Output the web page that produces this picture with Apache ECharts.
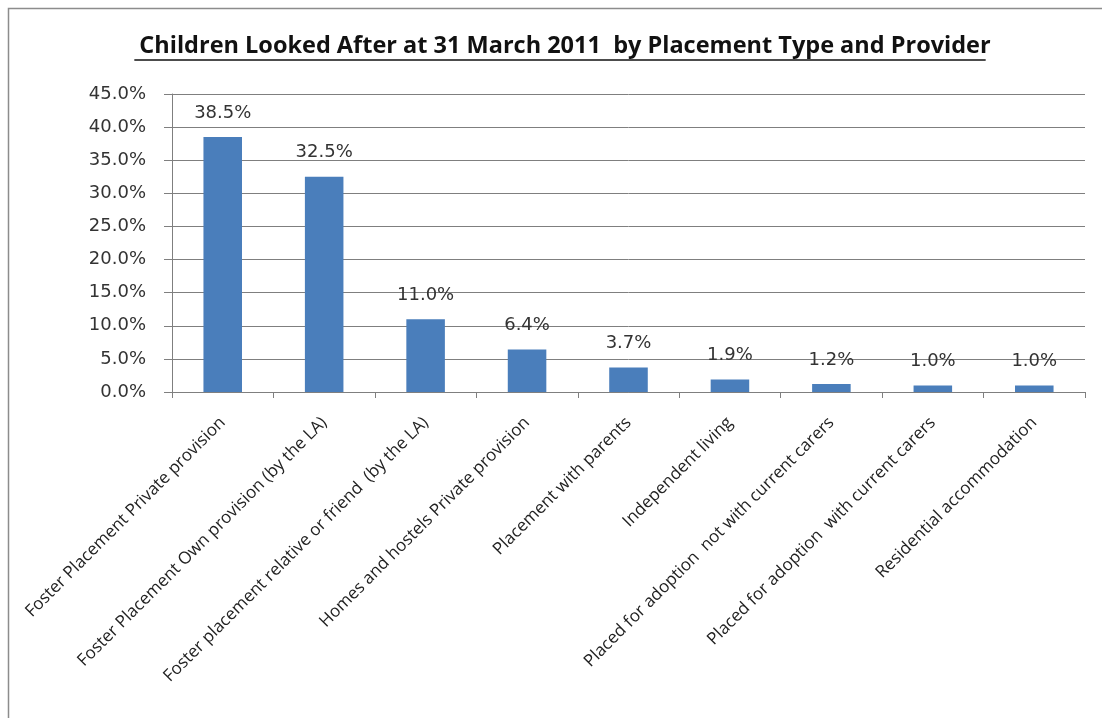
<!DOCTYPE html>
<html>
<head>
<meta charset="utf-8">
<script src="https://cdn.jsdelivr.net/npm/echarts@6/dist/echarts.min.js"></script>
<style>
  html, body { margin: 0; padding: 0; background: #ffffff; }
  #chart { width: 1102px; height: 718px; }
</style>
</head>
<body>
<div id="chart"></div>
<script>
// Placement types (category axis) and share of children looked after (%)
const categories = [
  'Foster Placement Private provision',
  'Foster Placement Own provision (by the LA)',
  'Foster placement relative or friend  (by the LA)',
  'Homes and hostels Private provision',
  'Placement with parents',
  'Independent living',
  'Placed for adoption  not with current carers',
  'Placed for adoption  with current carers',
  'Residential accommodation'
];
const shares = [38.5, 32.5, 11.0, 6.4, 3.7, 1.9, 1.2, 1.0, 1.0];

// Value axis ticks (%)
const yTicks = [0, 5, 10, 15, 20, 25, 30, 35, 40, 45];

const titleText = 'Children Looked After at 31 March 2011  by Placement Type and Provider';
const titleSize = 23.5;

const chart = echarts.init(document.getElementById('chart'), null, { renderer: 'canvas' });

// measure the title so the underline spans exactly the text
const ctx = document.createElement('canvas').getContext('2d');
ctx.font = 'bold ' + titleSize + 'px "Open Sans"';
const titleW = ctx.measureText(titleText).width;
const titleCx = 560;

chart.setOption({
  backgroundColor: '#ffffff',
  animation: false,
  title: {
    text: titleText,
    left: titleCx,
    top: 29,
    textAlign: 'center',
    textStyle: { fontFamily: 'Open Sans', fontWeight: 'bold', fontSize: titleSize, color: '#111111' }
  },
  graphic: [
    {
      type: 'rect', silent: true,
      shape: { x: 8.5, y: 8.5, width: 1100, height: 720 },
      style: { fill: 'none', stroke: '#8c8c8c', lineWidth: 1.5 }
    },
    {
      type: 'line', silent: true,
      shape: { x1: titleCx - titleW / 2, y1: 60, x2: titleCx + titleW / 2, y2: 60 },
      style: { stroke: '#111111', lineWidth: 1.5 }
    }
  ],
  grid: { left: 172, right: 17, top: 94, bottom: 326, containLabel: false },
  xAxis: {
    type: 'category',
    data: categories,
    axisLine: { lineStyle: { color: '#7f7f7f', width: 1 } },
    axisTick: { show: true, length: 6, interval: 0, lineStyle: { color: '#7f7f7f' } },
    axisLabel: {
      interval: 0, rotate: 45, margin: 28,
      fontFamily: 'Open Sans', fontSize: 17, color: '#222222'
    }
  },
  yAxis: {
    type: 'value',
    min: yTicks[0],
    max: yTicks[yTicks.length - 1],
    interval: yTicks[1] - yTicks[0],
    axisLine: { show: true, lineStyle: { color: '#7f7f7f', width: 1 } },
    axisTick: { show: true, length: 8, lineStyle: { color: '#7f7f7f' } },
    splitLine: { lineStyle: { color: '#7f7f7f', width: 1 } },
    axisLabel: {
      margin: 26,
      fontFamily: 'DejaVu Sans', fontSize: 18, color: '#333333',
      formatter: v => v.toFixed(1) + '%'
    }
  },
  series: [{
    type: 'bar',
    data: shares,
    barWidth: '38%',
    itemStyle: { color: '#4a7ebb' },
    label: {
      show: true, position: 'top', distance: 15,
      fontFamily: 'DejaVu Sans', fontSize: 18, color: '#333333',
      formatter: p => p.value.toFixed(1) + '%'
    }
  }]
});
</script>
</body>
</html>
